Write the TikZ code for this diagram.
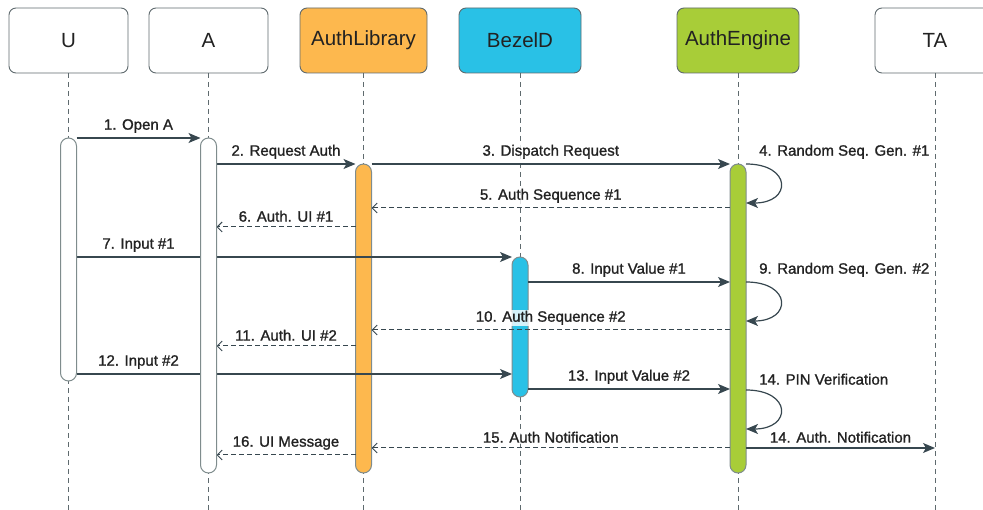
\documentclass[tikz,border=0pt]{standalone}
\usepackage{fontspec}
\setmainfont{Liberation Sans}
\newfontfamily\labelfont[FakeBold=1.2]{Liberation Sans}
\usepackage{tikz}
\usetikzlibrary{positioning,arrows.meta,calc}
\definecolor{linecolor}{HTML}{37474F}
\definecolor{boxcolor}{HTML}{5F6A6E}
\definecolor{actcolor}{HTML}{7F8C8D}
\definecolor{textcolor}{HTML}{222222}
\definecolor{libcolor}{HTML}{FDB84E}
\definecolor{bezelcolor}{HTML}{29C1E6}
\definecolor{enginecolor}{HTML}{A8CD38}
\tikzset{
    participant/.style={rectangle, rounded corners=7pt, draw=boxcolor, line width=0.9pt, minimum height=65pt, inner sep=0pt, outer sep=0pt, text=textcolor, font=\fontsize{20.5}{24}\selectfont},
    plain part/.style={participant, fill=white},
    lib part/.style={participant, fill=libcolor},
    bezel part/.style={participant, fill=bezelcolor},
    engine part/.style={participant, fill=enginecolor},
    lifeline/.style={draw=boxcolor, line width=1pt, dash pattern=on 5pt off 4pt},
    activation/.style={rectangle, rounded corners=8pt, draw=actcolor, line width=1pt, minimum width=16pt, inner sep=0pt, outer sep=0pt, anchor=north},
    call/.style={-{Stealth[length=12pt, width=10pt, inset=3pt]}, draw=linecolor, line width=1.2pt},
    reply/.style={-{Straight Barb[length=5pt, width=10pt]}, draw=linecolor, line width=1pt, dash pattern=on 5pt off 3pt},
    msg label/.style={font=\labelfont\fontsize{15}{18}\selectfont, text=textcolor, fill=white, fill opacity=0.8, text opacity=1, inner sep=1pt, above=4pt},
    loop label/.style={font=\labelfont\fontsize{15}{18}\selectfont, text=textcolor, inner sep=1pt, anchor=south west, xshift=12pt, yshift=4pt}
}

\begin{document}
\begin{tikzpicture}[x=1pt, y=-1pt]
\useasboundingbox (0,0) rectangle (983,510);

% participants
\node[plain part, minimum width=119pt] (u) at (68.5,40.5) {U};
\node[plain part, minimum width=119pt, right=21pt of u] (a) {A};
\node[lib part, minimum width=127pt, right=32pt of a] (lib) {AuthLibrary};
\node[bezel part, minimum width=122pt, right=32pt of lib] (bezel) {BezelD};
\node[engine part, minimum width=122pt, right=96pt of bezel] (engine) {AuthEngine};
\node[plain part, minimum width=120pt, right=76pt of engine] (ta) {TA};

\coordinate (bottom) at (0,510);
\foreach \p in {u,a,lib,bezel,engine,ta}
    \draw[lifeline] (\p.south) -- (\p.south |- bottom);

% coloured activations
\node[activation, fill=libcolor, minimum height=309pt] (libAct) at (lib.south |- 0,164) {};
\node[activation, fill=bezelcolor, minimum height=140pt] (bezelAct) at (bezel.south |- 0,257) {};
\node[activation, fill=enginecolor, minimum height=309pt] (engAct) at (engine.south |- 0,164) {};

% messages
\draw[call] ($(u.south |- 0,138)+(8,0)$) -- ($(a.south |- 0,138)+(-8,0)$);
\draw[call] ($(a.south |- 0,164)+(8,0)$) -- (libAct.west |- 0,164);
\draw[call] (libAct.east |- 0,164) -- (engAct.west |- 0,164);
\draw[call] (engAct.east |- 0,164) .. controls +(46,0) and +(46,0) .. (engAct.east |- 0,203);
\draw[reply] (engAct.west |- 0,208) -- (libAct.east |- 0,208);
\draw[reply] (libAct.west |- 0,227) -- ($(a.south |- 0,227)+(8,0)$);
\draw[call] ($(u.south |- 0,257)+(8,0)$) -- (bezelAct.west |- 0,257);
\draw[call] (bezelAct.east |- 0,282) -- (engAct.west |- 0,282);
\draw[call] (engAct.east |- 0,282) .. controls +(46,0) and +(46,0) .. (engAct.east |- 0,321);
\draw[reply] (engAct.west |- 0,330) -- (libAct.east |- 0,330);
\draw[reply] (libAct.west |- 0,346) -- ($(a.south |- 0,346)+(8,0)$);
\draw[call] ($(u.south |- 0,374)+(8,0)$) -- (bezelAct.west |- 0,374);
\draw[call] (bezelAct.east |- 0,389) -- (engAct.west |- 0,389);
\draw[call] (engAct.east |- 0,390) .. controls +(46,0) and +(46,0) .. (engAct.east |- 0,429);
\draw[reply] (engAct.west |- 0,448) -- (libAct.east |- 0,448);
\draw[call] (engAct.east |- 0,448) -- (ta.south |- 0,448);
\draw[reply] (libAct.west |- 0,455) -- ($(a.south |- 0,455)+(8,0)$);

% white activations
\node[activation, fill=white, minimum height=243pt] (uAct) at (u.south |- 0,138) {};
\node[activation, fill=white, minimum height=335pt] (aAct) at (a.south |- 0,138) {};

% labels
\node[msg label] (l1) at ($(uAct.east |- 0,138)!.5!(aAct.west |- 0,138)$) {1. Open A};
\node[msg label] (l2) at ($(aAct.east |- 0,164)!.5!(libAct.west |- 0,164)$) {2. Request Auth};
\node[msg label] (l3) at ($(libAct.east |- 0,164)!.5!(engAct.west |- 0,164)$) {3. Dispatch Request};
\node[loop label] (l4) at (engAct.east |- 0,164) {4. Random Seq. Gen. \#1};
\node[msg label] (l5) at ($(libAct.east |- 0,208)!.5!(engAct.west |- 0,208)$) {5. Auth Sequence \#1};
\node[msg label] (l6) at ($(aAct.east |- 0,227)!.5!(libAct.west |- 0,227)$) {6. Auth. UI \#1};
\node[msg label] (l7) at ($(uAct.east |- 0,257)!.5!(aAct.west |- 0,257)$) {7. Input \#1};
\node[msg label] (l8) at ($(bezelAct.east |- 0,282)!.5!(engAct.west |- 0,282)$) {8. Input Value \#1};
\node[loop label] (l9) at (engAct.east |- 0,282) {9. Random Seq. Gen. \#2};
\node[msg label] (l10) at ($(libAct.east |- 0,330)!.5!(engAct.west |- 0,330)$) {10. Auth Sequence \#2};
\node[msg label] (l11) at ($(aAct.east |- 0,346)!.5!(libAct.west |- 0,346)$) {11. Auth. UI \#2};
\node[msg label] (l12) at ($(uAct.east |- 0,374)!.5!(aAct.west |- 0,374)$) {12. Input \#2};
\node[msg label] (l13) at ($(bezelAct.east |- 0,389)!.5!(engAct.west |- 0,389)$) {13. Input Value \#2};
\node[loop label] (l14) at (engAct.east |- 0,390) {14. PIN Verification};
\node[msg label] (l15) at ($(libAct.east |- 0,448)!.5!(engAct.west |- 0,448)$) {15. Auth Notification};
\node[msg label] (l14b) at ($(engAct.east |- 0,448)!.5!(ta.south |- 0,448)$) {14. Auth. Notification};
\node[msg label] (l16) at ($(aAct.east |- 0,455)!.5!(libAct.west |- 0,455)$) {16. UI Message};
\end{tikzpicture}
\end{document}
